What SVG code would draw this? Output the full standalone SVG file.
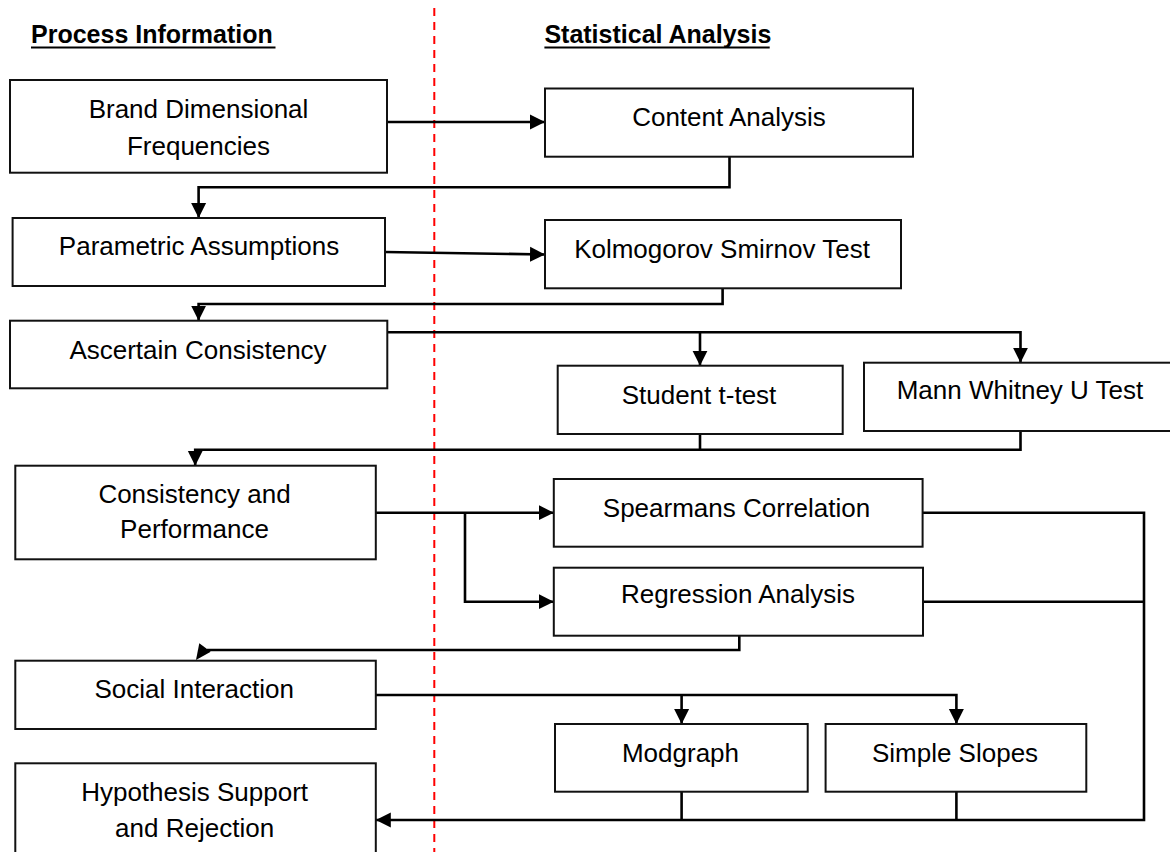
<svg xmlns="http://www.w3.org/2000/svg" width="1170" height="852" viewBox="0 0 1170 852">
<defs>
<style>
.box{fill:#fff;stroke:#111;stroke-width:2}
.t{font-family:"Liberation Sans",Arial,sans-serif;font-size:26px;fill:#000;text-anchor:middle}
.h{font-family:"Liberation Sans",Arial,sans-serif;font-size:25px;font-weight:bold;fill:#000}
.c{fill:none;stroke:#000;stroke-width:2.6}
.ca{fill:none;stroke:#000;stroke-width:2.6;marker-end:url(#arr)}
</style>
<marker id="arr" markerUnits="userSpaceOnUse" markerWidth="16" markerHeight="16" viewBox="0 0 16 16" refX="15" refY="8" orient="auto">
<path d="M0,0.5 L15,8 L0,15.5 z" fill="#000"/>
</marker>
</defs>
<rect width="1170" height="852" fill="#fff"/>

<g id="headers">
<text class="h" x="31" y="42.7">Process Information</text>
<line x1="31" y1="47.5" x2="275.5" y2="47.5" stroke="#000" stroke-width="2"/>
<text class="h" x="544.4" y="42.7">Statistical Analysis</text>
<line x1="544.4" y1="47.5" x2="769.7" y2="47.5" stroke="#000" stroke-width="2"/>
</g>

<line id="divider" x1="434.3" y1="8" x2="434.3" y2="852" stroke="#ff0000" stroke-width="2" stroke-dasharray="8 6"/>

<g id="connectors">
<path class="ca" d="M387,122 H545"/>
<path class="ca" d="M729.5,156.7 V187.3 H198.6 V218"/>
<path class="ca" d="M385,252 L545,254.5"/>
<path class="ca" d="M722.6,288.3 V304 H198.6 V320.7"/>
<path class="ca" d="M387.3,332.3 H1020.5 V362.7"/>
<path class="ca" d="M700,332.3 V365.7"/>
<path class="c" d="M700,434 V449.7"/>
<path class="ca" d="M1020.5,431 V449.7 H195.2 V465.7"/>
<path class="ca" d="M375.8,512.7 H553.8"/>
<path class="ca" d="M465,512.7 V601.7 H553.8"/>
<path class="c" d="M739.3,635.7 V650 H207"/>
<polygon points="196,660 199.3,643.3 210.7,651.7" fill="#000"/>
<path class="ca" d="M375.8,695 H956.4 V724"/>
<path class="ca" d="M681.6,695 V724"/>
<path class="ca" d="M922.6,512.7 H1144 V820 H375.8"/>
<path class="c" d="M923,601.7 H1144"/>
<path class="c" d="M681.6,791.7 V820"/>
<path class="c" d="M956.4,791.7 V820"/>
</g>

<g id="brand"><rect class="box" x="10" y="80" width="377" height="92.7"/>
<text class="t" x="198.5" y="118">Brand Dimensional</text><text class="t" x="198.5" y="155">Frequencies</text></g>
<g id="content"><rect class="box" x="545" y="88.5" width="368" height="68.2"/>
<text class="t" x="729" y="126">Content Analysis</text></g>
<g id="parametric"><rect class="box" x="12.6" y="218" width="372.4" height="68"/>
<text class="t" x="199" y="255">Parametric Assumptions</text></g>
<g id="kolmogorov"><rect class="box" x="545" y="220" width="356" height="68.3"/>
<text class="t" x="722" y="258">Kolmogorov Smirnov Test</text></g>
<g id="ascertain"><rect class="box" x="10" y="320.7" width="377.3" height="67.6"/>
<text class="t" x="198" y="359.3">Ascertain Consistency</text></g>
<g id="student"><rect class="box" x="557.7" y="365.7" width="285" height="68.3"/>
<text class="t" x="699" y="404">Student t-test</text></g>
<g id="mann"><rect class="box" x="864" y="362.7" width="320" height="68.3"/>
<text class="t" x="1020" y="399.3">Mann Whitney U Test</text></g>
<g id="consistency"><rect class="box" x="15.3" y="465.7" width="360.5" height="93.6"/>
<text class="t" x="194.5" y="502.7">Consistency and</text><text class="t" x="194.5" y="538.3">Performance</text></g>
<g id="spearman"><rect class="box" x="553.8" y="479" width="368.8" height="67.7"/>
<text class="t" x="736.5" y="516.7">Spearmans Correlation</text></g>
<g id="regression"><rect class="box" x="553.8" y="567.7" width="369.2" height="68"/>
<text class="t" x="738" y="603.3">Regression Analysis</text></g>
<g id="social"><rect class="box" x="15.3" y="660.7" width="360.5" height="68.3"/>
<text class="t" x="194.2" y="698.3">Social Interaction</text></g>
<g id="modgraph"><rect class="box" x="555" y="724" width="252.7" height="67.7"/>
<text class="t" x="680.5" y="761.7">Modgraph</text></g>
<g id="simple"><rect class="box" x="825.6" y="724" width="260.7" height="67.7"/>
<text class="t" x="955" y="761.7">Simple Slopes</text></g>
<g id="hypothesis"><rect class="box" x="15.3" y="763.3" width="360.5" height="100"/>
<text class="t" x="194.6" y="800.7">Hypothesis Support</text><text class="t" x="194.6" y="836.7">and Rejection</text></g>
</svg>
